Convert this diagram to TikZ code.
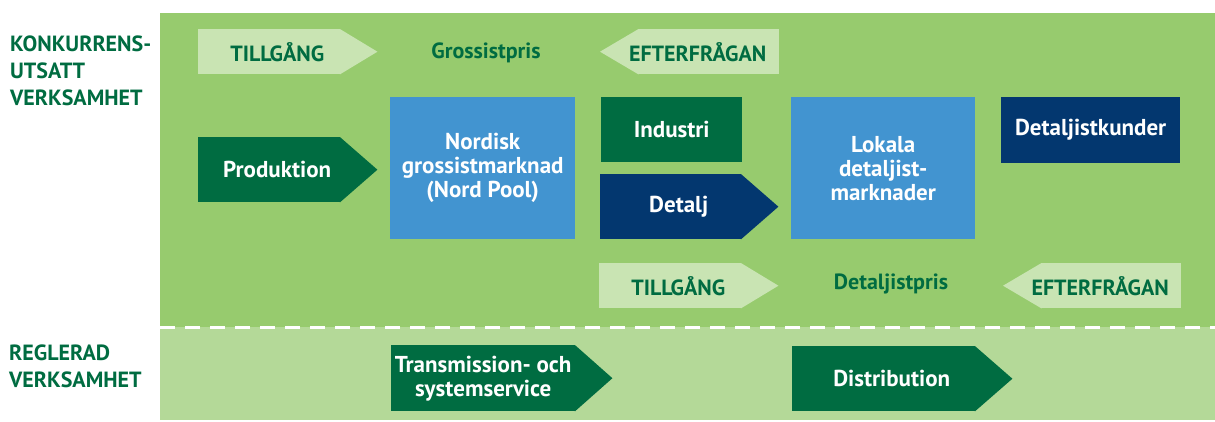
\documentclass[tikz,border=0pt]{standalone}
\usepackage{fontspec}
\setmainfont{PT Sans}
\usetikzlibrary{positioning,backgrounds}
\definecolor{upgreen}{HTML}{97CB6E}
\definecolor{lowgreen}{HTML}{B4D998}
\definecolor{palegreen}{HTML}{C9E4B3}
\definecolor{darkgreen}{HTML}{006C41}
\definecolor{lightblue}{HTML}{4294D0}
\definecolor{navy}{HTML}{03376F}
\tikzset{
  block/.style={rectangle, inner sep=0pt, anchor=north west, text=white,
    font=\bfseries\fontsize{23}{24}\selectfont},
  pale/.style={block, fill=palegreen, text=darkgreen,
    font=\bfseries\fontsize{22}{24}\selectfont},
  pushright/.style={execute at end node={\hspace*{-16pt}}},
  pushleft/.style={execute at begin node={\hspace*{-22pt}}},
  price/.style={text=darkgreen, font=\bfseries\fontsize{22}{24}\selectfont},
  sidelabel/.style={anchor=north west, inner sep=0pt, align=left, text=darkgreen,
    font=\bfseries\fontsize{22}{27}\selectfont}
}
\begin{document}
\begin{tikzpicture}[x=1pt,y=-1pt]
    \useasboundingbox (0,0) rectangle (1215,421);
    % Background panels
    \begin{scope}[on background layer]
        \fill[upgreen] (160,13) rectangle (1215,327);
        \fill[lowgreen] (160,327) rectangle (1215,420);
        \draw[white, line width=3pt, dash pattern=on 15pt off 10pt] (160,327) -- (1215,327);
    \end{scope}
    % Side labels
    \node[sidelabel] (konk) at (10,36) {KONKURRENS-\\UTSATT\\VERKSAMHET};
    \node[sidelabel] (regl) at (9,345) {REGLERAD\\VERKSAMHET};
    % Wholesale row
    \node[pale, pushright, minimum width=142pt, minimum height=45pt] (tillTop) at (198,29) {TILLGÅNG};
    \node[price] (gross) at (486,53) {Grossistpris};
    \node[pale, pushleft, minimum width=141pt, minimum height=45pt] (efterTop) at (638,29) {EFTERFRÅGAN};
    % Market blocks
    \node[block, pushright, fill=darkgreen, minimum width=142pt, minimum height=65pt] (prod) at (198,137) {Produktion};
    \node[block, align=center, fill=lightblue, minimum width=185pt, minimum height=142pt] (nordisk) at (390,97) {Nordisk\\grossistmarknad\\(Nord Pool)};
    \node[block, fill=darkgreen, minimum width=141pt, minimum height=65pt] (industri) at (601,97) {Industri};
    \node[block, pushright, fill=navy, minimum width=141pt, minimum height=65pt] (detalj) at (600,174) {Detalj};
    \node[block, align=center, fill=lightblue, minimum width=184pt, minimum height=142pt] (lokala) at (791,97) {Lokala\\detaljist-\\marknader};
    \node[block, fill=navy, minimum width=179pt, minimum height=66pt] (kunder) at (1001,97) {Detaljistkunder};
    % Retail row
    \node[pale, pushright, minimum width=142pt, minimum height=45pt] (tillBot) at (599,263) {TILLGÅNG};
    \node[price] (detpris) at (891,284) {Detaljistpris};
    \node[pale, pushleft, minimum width=140pt, minimum height=45pt] (efterBot) at (1041,263) {EFTERFRÅGAN};
    % Regulated blocks
    \node[block, align=center, fill=darkgreen, minimum width=184pt, minimum height=66pt] (trans) at (391,345) {Transmission- och\\systemservice};
    \node[block, pushright, fill=darkgreen, minimum width=183pt, minimum height=65pt] (distr) at (792,346) {Distribution};
    % Arrow tips
    \begin{scope}[on background layer]
        \foreach \n/\c in {tillTop/palegreen, prod/darkgreen, detalj/navy, tillBot/palegreen, trans/darkgreen, distr/darkgreen} {
                \fill[\c] ([xshift=-0.5pt]\n.north east) -- ([xshift=37pt]\n.east) -- ([xshift=-0.5pt]\n.south east) -- cycle;
            }
        \foreach \n in {efterTop, efterBot} {
                \fill[palegreen] ([xshift=0.5pt]\n.north west) -- ([xshift=-38pt]\n.west) -- ([xshift=0.5pt]\n.south west) -- cycle;
            }
    \end{scope}
\end{tikzpicture}
\end{document}
